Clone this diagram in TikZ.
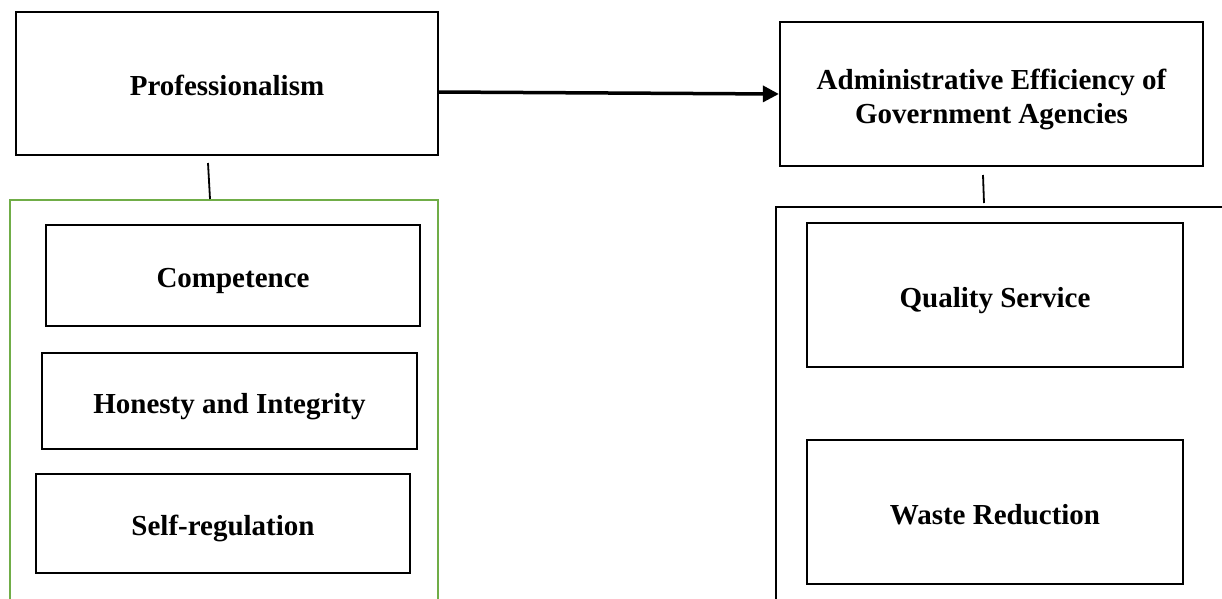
\documentclass[tikz,border=0pt]{standalone}
\usepackage{fontspec}
\setmainfont{Liberation Serif}
\usetikzlibrary{arrows.meta}
\definecolor{grpgreen}{RGB}{112,173,71}
\tikzset{
  box/.style={draw=black, line width=2.3pt, rectangle, inner sep=0pt,
    font=\fontsize{29}{34.5}\selectfont\bfseries, align=center,
    text height=24pt, text depth=0pt},
  conn/.style={draw=black, line width=1.8pt},
  mainarrow/.style={draw=black, line width=3.5pt, -{Triangle[length=16pt,width=16pt]}},
  greenframe/.style={draw=grpgreen, line width=1.8pt},
  blackframe/.style={draw=black, line width=2.3pt},
  lbl/.style={font=\fontsize{29}{34.5}\selectfont\bfseries, align=center, inner sep=0pt}
}
\begin{document}
\begin{tikzpicture}[x=1pt,y=-1pt]
\useasboundingbox (0,0) rectangle (1222,598);

% top boxes
\node[box, minimum width=422pt, minimum height=143pt] (prof) at (227,83.5) {Professionalism};
\node[box, minimum width=423pt, minimum height=144pt] (admin) at (991.5,94) {};
\node[lbl] (admintext) at (991.5,99.5) {Administrative Efficiency of\\Government Agencies};

% main arrow
\draw[mainarrow] (prof.east) ++(0,8.5) -- (admin.west);

% group frames (open at the bottom)
\coordinate (gA) at (10,600);
\coordinate (gB) at (10,200);
\coordinate (gC) at (438,200);
\coordinate (gD) at (438,600);
\draw[greenframe] (gA) -- (gB) -- (gC) -- (gD);

\coordinate (rA) at (776,600);
\coordinate (rB) at (776,207);
\coordinate (rC) at (1224,207);
\draw[blackframe] (rA) -- (rB) -- (rC);

% short connector lines
\coordinate (l1) at (208,163);
\coordinate (l2) at (210,199);
\draw[conn] (l1) -- (l2);
\coordinate (r1) at (983,175);
\coordinate (r2) at (984,203);
\draw[conn] (r1) -- (r2);

% left sub-boxes
\node[box, minimum width=374pt, minimum height=101pt] (comp) at (233,275.5) {Competence};
\node[box, minimum width=375pt, minimum height=96pt] (hon) at (229.5,401) {Honesty and Integrity};
\node[box, minimum width=374pt, minimum height=99pt] (selfreg) at (223,523.5) {Self-regulation};

% right sub-boxes
\node[box, minimum width=376pt, minimum height=144pt] (qual) at (995,295) {Quality Service};
\node[box, minimum width=376pt, minimum height=144pt] (waste) at (995,512) {Waste Reduction};
\end{tikzpicture}
\end{document}
